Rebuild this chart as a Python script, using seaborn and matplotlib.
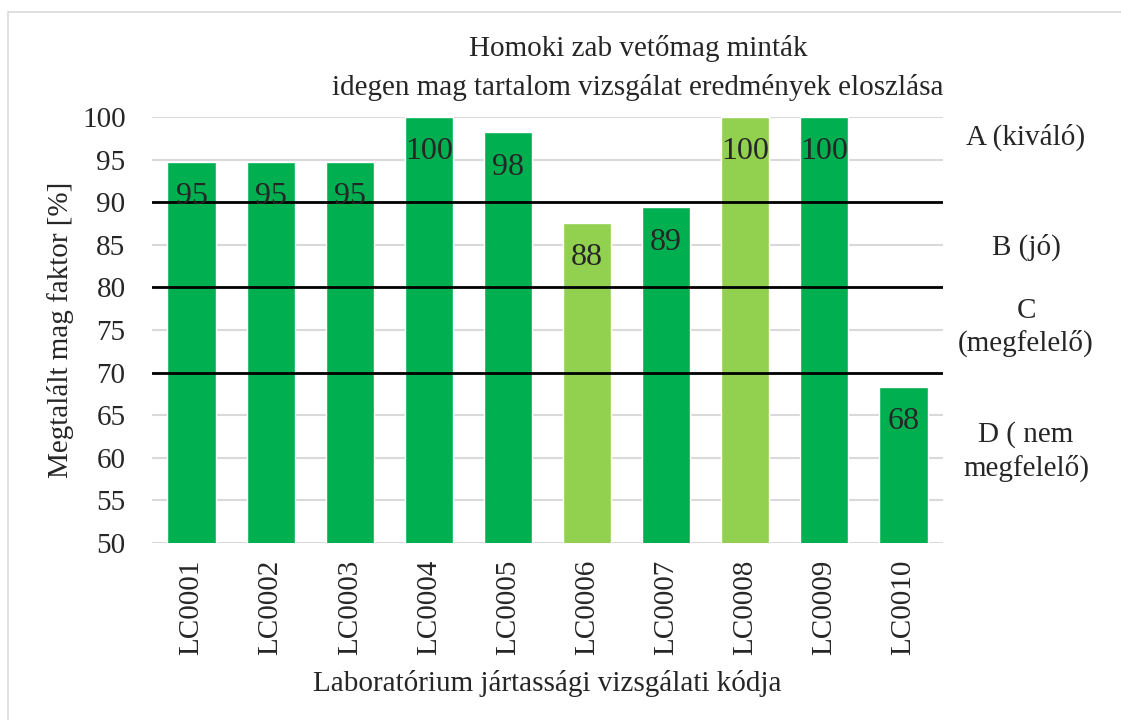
import numpy as np
import pandas as pd
import seaborn as sns
import matplotlib.pyplot as plt
from matplotlib.patches import Rectangle

# data
codes = ['LC0001', 'LC0002', 'LC0003', 'LC0004', 'LC0005',
         'LC0006', 'LC0007', 'LC0008', 'LC0009', 'LC0010']
values = [94.7, 94.7, 94.7, 100, 98.2, 87.6, 89.4, 100, 100, 68.3]
labels = [95, 95, 95, 100, 98, 88, 89, 100, 100, 68]
light = ['LC0006', 'LC0008']
limits = [90, 80, 70]
grades = ['A (kiváló)', 'B (jó)', 'C\n(megfelelő)', 'D ( nem\nmegfelelő)']
grade_y = [97.6, 84.7, 75.3, 60.7]

sns.set_style('white')
plt.rcParams['font.family'] = ['Liberation Serif', 'DejaVu Serif']

df = pd.DataFrame({'code': codes, 'value': values})
pal = {c: ('#92D050' if c in light else '#00B050') for c in codes}

fig = plt.figure(figsize=(11.21, 7.2), dpi=100)
fig.subplots_adjust(left=152/1121, right=943/1121, top=1-117/720, bottom=1-543/720)
ax = fig.add_subplot(111)

# outer chart frame (only top and left edge are inside the picture)
fig.patches.append(Rectangle((8/1121, -0.2), 1.2, 1.2-12/720, transform=fig.transFigure,
                             fill=False, edgecolor='#D9D9D9', linewidth=1.2))

sns.barplot(data=df, x='code', y='value', hue='code', palette=pal, legend=False,
            width=0.61, saturation=1, ax=ax, zorder=2)

ax.set_ylim(50, 100)
ax.set_xlim(-0.5, 9.5)
ax.set_yticks(np.arange(50, 101, 5))
ax.yaxis.grid(True, color='#D9D9D9', linewidth=1.5, zorder=0)
ax.set_axisbelow(True)
for s in ax.spines.values():
    s.set_visible(False)
ax.tick_params(axis='both', length=0, labelsize=21)
ax.tick_params(axis='y', pad=19)
ax.tick_params(axis='x', pad=12)
plt.setp(ax.get_xticklabels(), rotation=90)

for i, (v, lab) in enumerate(zip(values, labels)):
    ax.annotate(str(lab), (i, v), xytext=(0, -25), textcoords='offset points',
                ha='center', va='center', fontsize=23, zorder=4)

for y in limits:
    ax.axhline(y, color='black', linewidth=2, zorder=3)

for g, y in zip(grades, grade_y):
    ax.text(10.55, y, g, ha='center', va='center', fontsize=21,
            clip_on=False, linespacing=1.3)

ax.set_xlabel('Laboratórium jártassági vizsgálati kódja', fontsize=21, labelpad=11)
ax.set_ylabel('')
fig.text(61/1121, 1-330/720, 'Megtalált mag faktor [%]', rotation=90,
         ha='center', va='center', fontsize=21)

fig.text(638/1121, 1-68/720, 'Homoki zab vetőmag minták\nidegen mag tartalom vizsgálat eredmények eloszlása',
         ha='center', va='center', fontsize=21, linespacing=1.55)

plt.savefig('out.png', dpi=100)
